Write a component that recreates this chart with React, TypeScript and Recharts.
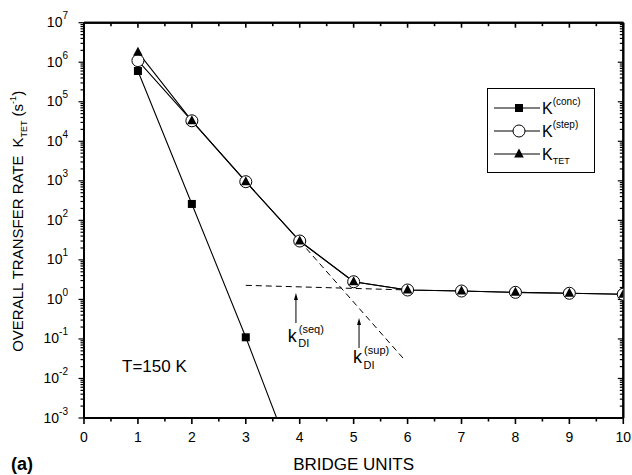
import React from "react";
import {
  LineChart,
  Line,
  XAxis,
  YAxis,
  Legend,
  ReferenceDot,
  ReferenceLine,
} from "recharts";

// bridge units (x) for each series
const unitsConc = [1, 2, 3, 4];
const unitsAll = [1, 2, 3, 4, 5, 6, 7, 8, 9, 10];

// rates in s^-1
const kConc = [6.0e5, 2.6e2, 0.11, 3e-5];
const kStep = [1.1e6, 3.3e4, 950, 30, 2.8, 1.73, 1.63, 1.51, 1.43, 1.35];
const kTet = [1.8e6, 3.3e4, 950, 30, 2.8, 1.73, 1.63, 1.51, 1.43, 1.35];

// dashed asymptotes
const seqUnits = [3, 5.9];
const seqRate = [2.27, 1.75];
const supUnits = [4, 5.95];
const supRate = [30, 0.029];

// axis ticks
const xTicks = [0, 0.5, 1, 1.5, 2, 2.5, 3, 3.5, 4, 4.5, 5, 5.5, 6, 6.5, 7, 7.5, 8, 8.5, 9, 9.5, 10];
const decades = [-3, -2, -1, 0, 1, 2, 3, 4, 5, 6, 7];
const minorSteps = [2, 3, 4, 5, 6, 7, 8, 9];

const yTicks: number[] = [];
decades.forEach((d) => {
  yTicks.push(Math.pow(10, d));
  if (d < 7) minorSteps.forEach((m) => yTicks.push(m * Math.pow(10, d)));
});

const X_MIN = 0;
const X_MAX = 10;
const Y_MIN = 1e-3;
const Y_MAX = 1e7;

const toPoints = (xs: number[], ys: number[]) => xs.map((x, i) => ({ x, y: ys[i] }));

const concData = toPoints(unitsConc, kConc);
const stepData = toPoints(unitsAll, kStep);
const tetData = toPoints(unitsAll, kTet);
const seqData = toPoints(seqUnits, seqRate);
const supData = toPoints(supUnits, supRate);

const FONT = "'Liberation Sans', Arial, Helvetica, sans-serif";
const W = 632;
const H = 475;

const isDecade = (v: number) => {
  const l = Math.log10(v);
  return Math.abs(l - Math.round(l)) < 1e-6;
};

// markers
const Square = (p: any) =>
  p.cx == null ? <g key={p.key} /> : (
    <rect key={p.key} x={p.cx - 4} y={p.cy - 4} width={8} height={8} fill="#000" />
  );
const OpenCircle = (p: any) =>
  p.cx == null ? <g key={p.key} /> : (
    <circle key={p.key} cx={p.cx} cy={p.cy} r={6} fill="#fff" stroke="#000" strokeWidth={1} />
  );
const Triangle = (p: any) =>
  p.cx == null ? <g key={p.key} /> : (
    <polygon
      key={p.key}
      points={`${p.cx},${p.cy - 5.5} ${p.cx + 4.8},${p.cy + 3.5} ${p.cx - 4.8},${p.cy + 3.5}`}
      fill="#000"
    />
  );

// tick marks, placed through the chart scales
const bottomTick = (v: number) => (p: any) => {
  const major = Number.isInteger(v);
  return (
    <g>
      <line x1={p.cx} x2={p.cx} y1={p.cy} y2={p.cy + (major ? 6 : 3.5)} stroke="#000" strokeWidth={1.6} />
      {major && (
        <text x={p.cx} y={p.cy + 24} textAnchor="middle" fontSize={14} fontFamily={FONT} fill="#000">
          {v}
        </text>
      )}
    </g>
  );
};

const topTick = (v: number) => (p: any) => (
  <line
    x1={p.cx}
    x2={p.cx}
    y1={p.cy}
    y2={p.cy + (Number.isInteger(v) ? 5 : 3.5)}
    stroke="#000"
    strokeWidth={1.6}
  />
);

const leftTick = (v: number) => (p: any) => {
  const major = isDecade(v);
  return (
    <g>
      <line x1={p.cx - (major ? 5.5 : 3.5)} x2={p.cx} y1={p.cy} y2={p.cy} stroke="#000" strokeWidth={1.2} />
      {major && (
        <text x={p.cx - 16} y={p.cy + 4.5} textAnchor="end" fontSize={14} fontFamily={FONT} fill="#000">
          10
          <tspan fontSize={10} dy={-8}>
            {Math.round(Math.log10(v))}
          </tspan>
        </text>
      )}
    </g>
  );
};

const rightTick = (v: number) => (p: any) => (
  <line
    x1={p.cx}
    x2={p.cx - (isDecade(v) ? 5.5 : 3.5)}
    y1={p.cy}
    y2={p.cy}
    stroke="#000"
    strokeWidth={1.2}
  />
);

// axis titles, anchored to axis points
const YTitle = (p: any) => (
  <text
    transform={`translate(${p.cx - 61},${p.cy + 1}) rotate(-90)`}
    textAnchor="middle"
    fontSize={15}
    fontFamily={FONT}
    fill="#000"
  >
    OVERALL TRANSFER RATE
    <tspan dx={8}>K</tspan>
    <tspan fontSize={9} dy={4}>TET</tspan>
    <tspan dy={-4} dx={4}>(s</tspan>
    <tspan fontSize={9} dy={-7}>-1</tspan>
    <tspan dy={7}>)</tspan>
  </text>
);

const XTitle = (p: any) => (
  <text x={p.cx} y={p.cy + 52} textAnchor="middle" fontSize={17} fontFamily={FONT} fill="#000">
    BRIDGE UNITS
  </text>
);

const PanelTag = (p: any) => (
  <text x={p.cx - 73} y={p.cy + 52} fontSize={18} fontWeight="bold" fontFamily={FONT} fill="#000">
    (a)
  </text>
);

const legendRows = [
  { name: "K", sup: "(conc)", sub: "", Marker: Square },
  { name: "K", sup: "(step)", sub: "", Marker: OpenCircle },
  { name: "K", sup: "", sub: "TET", Marker: Triangle },
];

const LegendBox = () => (
  <svg width={108} height={85} style={{ display: "block" }}>
    <rect x={0.5} y={0.5} width={107} height={84} fill="#fff" stroke="#000" strokeWidth={1} />
    {legendRows.map((r, i) => {
      const cy = 20 + i * 23;
      return (
        <g key={i}>
          <line x1={7} x2={53} y1={cy} y2={cy} stroke="#000" strokeWidth={1} />
          <r.Marker cx={32} cy={cy} />
          <text x={55} y={cy + 6} fontSize={16} fontFamily={FONT} fill="#000">
            {r.name}
            {r.sup && (
              <tspan fontSize={10} dy={-9}>
                {r.sup}
              </tspan>
            )}
            {r.sub && (
              <tspan fontSize={9} dy={4}>
                {r.sub}
              </tspan>
            )}
          </text>
        </g>
      );
    })}
  </svg>
);

// annotations
const Arrow = (p: any) => (
  <g>
    <line x1={p.cx} x2={p.cx} y1={p.cy + 5} y2={p.cy + 30} stroke="#000" strokeWidth={1} />
    <polygon points={`${p.cx},${p.cy} ${p.cx + 2},${p.cy + 7} ${p.cx - 2},${p.cy + 7}`} fill="#000" />
  </g>
);

const kLabel = (sup: string) => (p: any) => (
  <g>
    <text x={p.cx} y={p.cy} fontSize={18} fontFamily={FONT} fill="#000">
      k
    </text>
    <text x={p.cx + 11} y={p.cy - 9} fontSize={11} fontFamily={FONT} fill="#000">
      {sup}
    </text>
    <text x={p.cx + 10.5} y={p.cy + 5.5} fontSize={11} fontFamily={FONT} fill="#000">
      DI
    </text>
  </g>
);

const TempLabel = (p: any) => (
  <text x={p.cx} y={p.cy} fontSize={17} fontFamily={FONT} fill="#000">
    T=150 K
  </text>
);

export default function App() {
  return (
    <div style={{ position: "absolute", left: 0, top: 0, width: W, height: H, background: "#fff" }}>
      <LineChart width={W} height={H} margin={{ top: 21.7, right: 7.7, bottom: 0, left: 0 }}>
        {/* four axes drawn as a black frame, labels and ticks come from the reference dots below */}
        <XAxis
          dataKey="x"
          type="number"
          domain={[X_MIN, X_MAX]}
          ticks={[X_MIN, X_MAX]}
          tick={false}
          tickLine={false}
          height={57}
          stroke="#000"
          strokeWidth={2}
          allowDataOverflow
        />
        <XAxis
          xAxisId="top"
          orientation="top"
          dataKey="x"
          type="number"
          domain={[X_MIN, X_MAX]}
          ticks={[X_MIN, X_MAX]}
          tick={false}
          tickLine={false}
          height={1}
          stroke="#000"
          strokeWidth={2}
          allowDataOverflow
        />
        <YAxis
          dataKey="y"
          scale="log"
          domain={[Y_MIN, Y_MAX]}
          ticks={[Y_MIN, Y_MAX]}
          tick={false}
          tickLine={false}
          width={84}
          stroke="#000"
          strokeWidth={2}
          allowDataOverflow
        />
        <YAxis
          yAxisId="right"
          orientation="right"
          dataKey="y"
          scale="log"
          domain={[Y_MIN, Y_MAX]}
          ticks={[Y_MIN, Y_MAX]}
          tick={false}
          tickLine={false}
          width={1}
          stroke="#000"
          strokeWidth={2}
          allowDataOverflow
        />
        <Line
          data={tetData}
          dataKey="y"
          xAxisId="top"
          yAxisId="right"
          stroke="none"
          dot={false}
          activeDot={false}
          legendType="none"
          isAnimationActive={false}
        />

        <Line
          data={seqData}
          dataKey="y"
          stroke="#000"
          strokeWidth={1}
          strokeDasharray="6 4"
          dot={false}
          legendType="none"
          isAnimationActive={false}
        />
        <Line
          data={supData}
          dataKey="y"
          stroke="#000"
          strokeWidth={1}
          strokeDasharray="6 4"
          dot={false}
          legendType="none"
          isAnimationActive={false}
        />
        <Line
          data={concData}
          dataKey="y"
          name="K(conc)"
          stroke="#000"
          strokeWidth={1.1}
          dot={Square}
          isAnimationActive={false}
        />
        <Line
          data={stepData}
          dataKey="y"
          name="K(step)"
          stroke="#000"
          strokeWidth={1.1}
          dot={OpenCircle}
          isAnimationActive={false}
        />
        <Line
          data={tetData}
          dataKey="y"
          name="KTET"
          stroke="#000"
          strokeWidth={1.1}
          dot={Triangle}
          isAnimationActive={false}
        />

        {/* frame backup */}
        <ReferenceLine x={X_MAX} stroke="#000" strokeWidth={2} ifOverflow="visible" />
        <ReferenceLine y={Y_MAX} stroke="#000" strokeWidth={2} ifOverflow="visible" />

        {/* ticks */}
        {xTicks.map((v) => (
          <ReferenceDot key={`b${v}`} x={v} y={Y_MIN} r={0} ifOverflow="visible" shape={bottomTick(v)} />
        ))}
        {xTicks.map((v) => (
          <ReferenceDot key={`t${v}`} x={v} y={Y_MAX} r={0} ifOverflow="visible" shape={topTick(v)} />
        ))}
        {yTicks.map((v) => (
          <ReferenceDot key={`l${v}`} x={X_MIN} y={v} r={0} ifOverflow="visible" shape={leftTick(v)} />
        ))}
        {yTicks.map((v) => (
          <ReferenceDot key={`r${v}`} x={X_MAX} y={v} r={0} ifOverflow="visible" shape={rightTick(v)} />
        ))}

        {/* titles */}
        <ReferenceDot x={X_MIN} y={100} r={0} ifOverflow="visible" shape={YTitle} />
        <ReferenceDot x={5} y={Y_MIN} r={0} ifOverflow="visible" shape={XTitle} />
        <ReferenceDot x={X_MIN} y={Y_MIN} r={0} ifOverflow="visible" shape={PanelTag} />

        {/* annotations */}
        <ReferenceDot x={3.93} y={1.45} r={0} shape={Arrow} />
        <ReferenceDot x={5.1} y={0.339} r={0} shape={Arrow} />
        <ReferenceDot x={3.78} y={0.084} r={0} shape={kLabel("(seq)")} />
        <ReferenceDot x={4.99} y={0.0245} r={0} shape={kLabel("(sup)")} />
        <ReferenceDot x={0.705} y={0.0148} r={0} shape={TempLabel} />

        <Legend
          layout="vertical"
          align="center"
          verticalAlign="middle"
          content={<LegendBox />}
          wrapperStyle={{ position: "absolute", left: 486.5, top: 88, width: 108, height: 85 }}
        />
      </LineChart>
    </div>
  );
}
